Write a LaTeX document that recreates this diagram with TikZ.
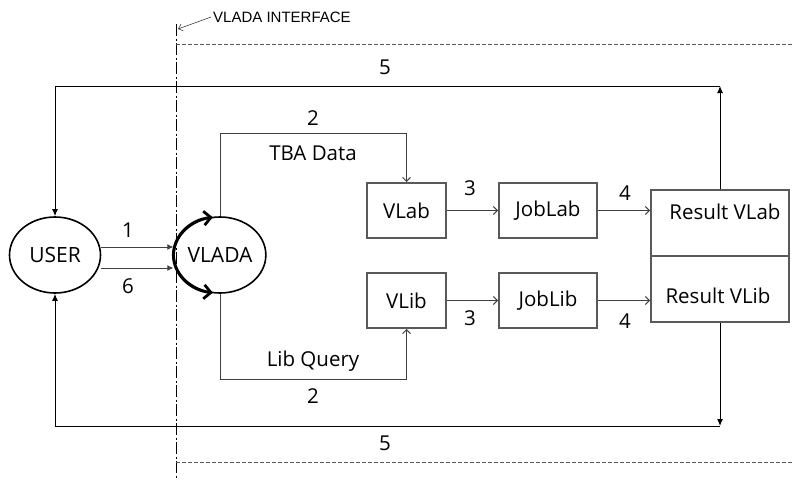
\documentclass[tikz,border=0pt]{standalone}
\usepackage{fontspec}
\setmainfont{Open Sans}
\newfontfamily\arialfont{Liberation Sans}
\usetikzlibrary{arrows.meta,shapes.geometric}
\definecolor{boxgray}{HTML}{595959}
\definecolor{linegray}{HTML}{404040}
\tikzset{
  blob/.style={ellipse,draw=black,line width=1.6pt,minimum width=91pt,minimum height=76pt,inner sep=0pt,font=\fontsize{21}{24}\selectfont},
  stagebox/.style={rectangle,draw=boxgray,line width=2pt,minimum height=55pt,inner sep=0pt,font=\fontsize{20.5}{24}\selectfont},
  resbox/.style={rectangle,draw=boxgray,line width=2pt,minimum width=138pt,minimum height=66pt,inner sep=0pt},
  lbl/.style={font=\fontsize{20.5}{24}\selectfont,inner sep=0pt},
  thin/.style={draw=linegray,line width=0.9pt,-{Straight Barb[length=4pt,width=8pt]}},
  bigarr/.style={draw=black,line width=1pt,-{Latex[length=7pt,width=6pt]}},
  feed/.style={draw=linegray,line width=1pt,-{Latex[length=6pt,width=6pt]}},
  cyc/.style={draw=black,line width=2.8pt,-{Straight Barb[length=7pt,width=14pt]}},
}
\begin{document}
\begin{tikzpicture}[x=1pt,y=-1pt]
\useasboundingbox (0,0) rectangle (792,479);
% interface lines
\draw[black,line width=0.9pt,dash pattern=on 12pt off 2.5pt on 2pt off 2.5pt] (176,24) -- (176,479);
\draw[boxgray,line width=0.9pt,dash pattern=on 3.5pt off 2.5pt] (176,44) -- (792,44);
\draw[boxgray,line width=0.9pt,dash pattern=on 3.5pt off 2.5pt] (176,462) -- (792,462);
\node[anchor=west,inner sep=0pt,font=\arialfont\fontsize{15}{17}\selectfont] (iface) at (213,17) {VLADA INTERFACE};
\coordinate (ifaceTip) at (178,29);
\draw[draw=linegray,line width=0.6pt,-{Straight Barb[length=4pt,width=7pt]}] ([xshift=-2pt]iface.west) -- (ifaceTip);

% nodes
\node[blob] (user) at (55,255) {USER};
\node[blob] (vlada) at (220,255) {VLADA};
\node[stagebox,minimum width=79pt] (vlab) at (406.5,210.5) {VLab};
\node[stagebox,minimum width=98pt] (joblab) at (548,210.5) {JobLab};
\node[stagebox,minimum width=79pt] (vlib) at (406.5,300.5) {VLib};
\node[stagebox,minimum width=98pt] (joblib) at (548,300.5) {JobLib};
\node[resbox] (resA) at (720,223) {};
\node[resbox] (resB) at (720,289) {};
\node[lbl] (resAtxt) at (725,212) {Result VLab};
\node[lbl] (resBtxt) at (718,296) {Result VLib};

% VLADA cycle arcs
\draw[cyc] (vlada.west) arc[start angle=180,end angle=97,x radius=45pt,y radius=38pt];
\draw[cyc] (vlada.west) arc[start angle=180,end angle=263,x radius=45pt,y radius=38pt];

% user -> vlada
\draw[feed] ([yshift=8pt]user.east) -- ([yshift=8pt]vlada.west);
\draw[feed] ([yshift=-13pt]user.east) -- ([yshift=-13pt]vlada.west);
\node[lbl] (n1) at (128,230) {1};
\node[lbl] (n6) at (128,286) {6};

% vlada -> vlab / vlib
\coordinate (tA) at (220,133);
\coordinate (bA) at (220,379);
\draw[thin] (vlada.north) -- (tA) -| (vlab.north);
\draw[thin] (vlada.south) -- (bA) -| (vlib.south);
\node[lbl] (n2a) at (313,118) {2};
\node[lbl] (tba) at (313,153) {TBA Data};
\node[lbl] (libq) at (313,361) {Lib Query};
\node[lbl] (n2b) at (313,396) {2};

% stage arrows
\draw[thin] (vlab.east) -- (joblab.west);
\draw[thin] (vlib.east) -- (joblib.west);
\draw[thin] (joblab.east) -- (resA.west |- joblab.east);
\draw[thin] (joblib.east) -- (resB.west |- joblib.east);
\node[lbl] (n3a) at (470,188) {3};
\node[lbl] (n3b) at (470,318) {3};
\node[lbl] (n4a) at (625,193) {4};
\node[lbl] (n4b) at (625,321) {4};

% feedback loops
\coordinate (cTop) at (720,86);
\coordinate (cBot) at (720,426);
\draw[bigarr] (resA.north) -- (cTop);
\draw[bigarr] (cTop) -| (user.north);
\draw[bigarr] (resB.south) -- (cBot);
\draw[bigarr] (cBot) -| (user.south);
\node[lbl] (n5a) at (385,67) {5};
\node[lbl] (n5b) at (385,443) {5};
\end{tikzpicture}
\end{document}
